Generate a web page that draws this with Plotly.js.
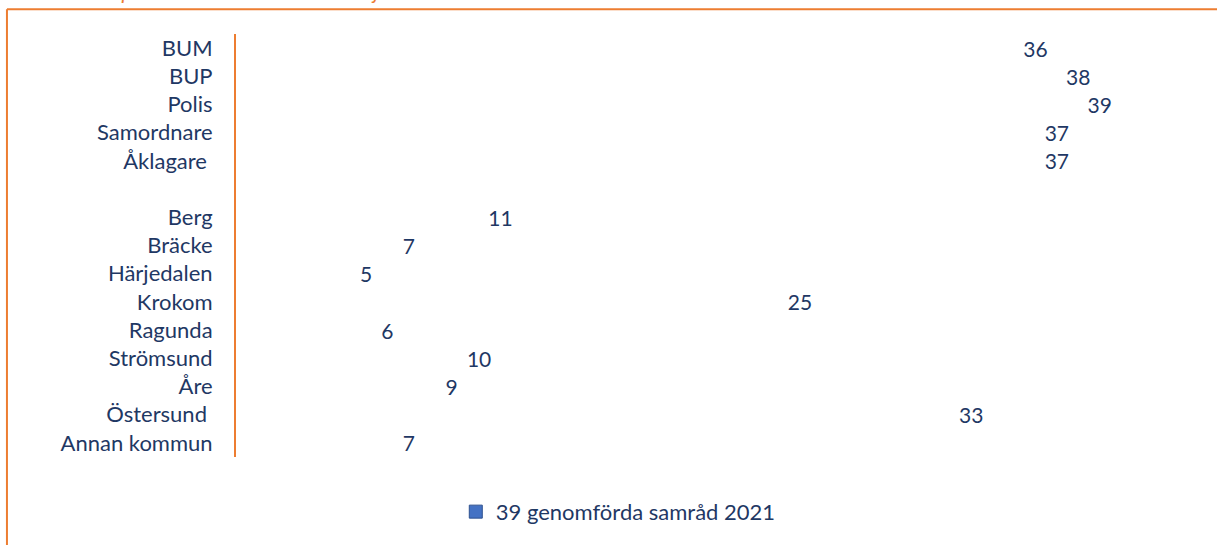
<!DOCTYPE html>
<html>
<head>
<meta charset="utf-8">
<script src="https://cdn.plot.ly/plotly-3.0.1.min.js"></script>
<style>
  html, body { margin: 0; padding: 0; background: #ffffff; }
  #chart { width: 1217px; height: 545px; }
</style>
</head>
<body>
<div id="chart"></div>
<script>
// Categories (top to bottom); the blank entry is the visual gap between groups
const categories = ['BUM', 'BUP', 'Polis', 'Samordnare', 'Åklagare\u00a0', '\u00a0',
  'Berg', 'Bräcke', 'Härjedalen', 'Krokom', 'Ragunda', 'Strömsund', 'Åre', 'Östersund\u00a0', 'Annan kommun'];
// Number of samråd each party attended
const values = [36, 38, 39, 37, 37, null, 11, 7, 5, 25, 6, 10, 9, 33, 7];
const seriesName = '39 genomförda samråd 2021';
const chartTitle = 'Samverkansparter: närvaro vid samråd 1 januari – 31 december 2021';

const navy = '#1F3864';
const orange = '#ED7D31';
const fontFam = 'Lato, "Open Sans", sans-serif';

const traces = [
  {
    type: 'bar',
    orientation: 'h',
    y: categories,
    x: values,
    name: seriesName,
    marker: { color: 'rgba(0,0,0,0)' },
    text: values.map(v => v === null ? '' : String(v)),
    textposition: 'outside',
    constraintext: 'none',
    cliponaxis: false,
    textfont: { family: fontFam, size: 21, color: navy },
    showlegend: false,
    hoverinfo: 'skip'
  },
  {
    type: 'scatter',
    mode: 'markers',
    x: [null],
    y: [null],
    name: seriesName,
    marker: { symbol: 'square', size: 13, color: '#4472C4', line: { color: '#2F528F', width: 1 } },
    showlegend: true,
    hoverinfo: 'skip'
  }
];

const layout = {
  width: 1217,
  height: 545,
  margin: { l: 236, r: 17, t: 34, b: 85 },
  paper_bgcolor: '#ffffff',
  plot_bgcolor: '#ffffff',
  font: { family: fontFam, color: navy, size: 21 },
  xaxis: {
    range: [-0.65, 44.4],
    showgrid: false,
    zeroline: false,
    showline: false,
    showticklabels: false,
    ticks: ''
  },
  yaxis: {
    type: 'category',
    categoryorder: 'array',
    categoryarray: categories,
    autorange: 'reversed',
    showgrid: false,
    zeroline: false,
    showline: true,
    linecolor: orange,
    linewidth: 2,
    ticks: '',
    ticklabelstandoff: 17,
    tickfont: { family: fontFam, size: 22, color: navy }
  },
  showlegend: true,
  legend: {
    orientation: 'h',
    x: 0.228,
    xanchor: 'left',
    y: -0.08,
    yanchor: 'top',
    font: { family: fontFam, size: 22, color: navy },
    bgcolor: 'rgba(0,0,0,0)'
  },
  annotations: [
    {
      text: chartTitle,
      xref: 'paper', yref: 'paper',
      x: -0.229, y: 1.068,
      xanchor: 'left', yanchor: 'bottom',
      showarrow: false,
      font: { family: fontFam, size: 21, color: orange, style: 'italic' }
    }
  ],
  shapes: [
    { type: 'line', xref: 'paper', yref: 'paper', x0: -0.2376, x1: -0.2376, y0: 1.0585, y1: -0.3,
      line: { color: orange, width: 2 } },
    { type: 'line', xref: 'paper', yref: 'paper', x0: -0.2376, x1: 1.1, y0: 1.0585, y1: 1.0585,
      line: { color: orange, width: 2 } }
  ],
  bargap: 0.3
};

Plotly.newPlot('chart', traces, layout, { staticPlot: true, displayModeBar: false });
</script>
</body>
</html>
